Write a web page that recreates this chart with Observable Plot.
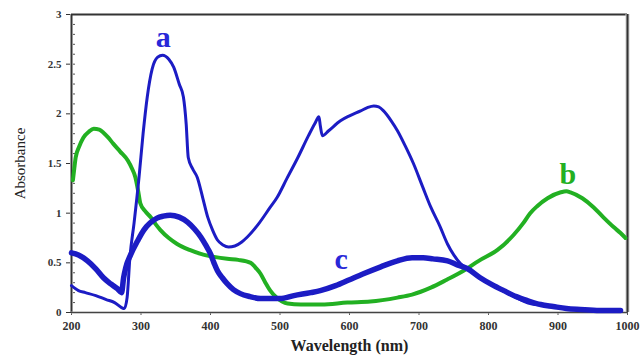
<!DOCTYPE html>
<html>
<head>
<meta charset="utf-8">
<script src="https://cdn.jsdelivr.net/npm/d3@7"></script>
<script src="https://cdn.jsdelivr.net/npm/@observablehq/plot@0.6"></script>
<style>
html,body{margin:0;padding:0;background:#fff;}
#chart svg, #chart svg text { font-family: "Liberation Serif" !important; }
</style>
</head>
<body>
<div id="chart"></div>
<script>
// Curve a (thin blue)
const aWave = [200,210,220,235,250,262,272,276,280,284,290,297,303,309,316,324,331,340,347,355,361,365,368,374,381,389,396,403,410,418,426,435,445,453,470,485,496,510,525,541,550,556,558,561,570,587,600,616,625,635,642,649,660,669,680,692,705,717,730,741,750,760,770,788,813,840,860,893,932,990];
const aAbs  = [0.27,0.22,0.2,0.17,0.13,0.1,0.05,0.04,0.15,0.55,0.9,1.35,1.8,2.17,2.45,2.57,2.59,2.55,2.47,2.3,2.17,1.9,1.56,1.45,1.36,1.15,0.96,0.83,0.73,0.68,0.66,0.67,0.71,0.76,0.9,1.05,1.16,1.35,1.55,1.78,1.9,1.97,1.88,1.78,1.83,1.93,1.98,2.03,2.06,2.08,2.07,2.03,1.93,1.83,1.68,1.5,1.27,1.06,0.87,0.69,0.58,0.49,0.44,0.35,0.25,0.15,0.09,0.06,0.03,0.02];
// Curve b (green)
const bWave = [202,204,206,211,217,225,232,240,246,253,260,270,281,287,292,296,299,306,314,321,328,340,352,370,386,405,424,440,458,465,472,479,486,495,503,511,530,560,597,630,669,690,717,740,764,786,813,836,850,860,870,885,904,912,918,935,951,965,980,990,997];
const bAbs  = [1.33,1.45,1.56,1.67,1.76,1.82,1.85,1.84,1.81,1.76,1.7,1.62,1.53,1.45,1.36,1.22,1.1,1.02,0.96,0.89,0.83,0.75,0.69,0.63,0.59,0.56,0.54,0.53,0.5,0.45,0.39,0.3,0.22,0.15,0.11,0.09,0.08,0.08,0.1,0.11,0.15,0.18,0.25,0.33,0.42,0.52,0.63,0.78,0.9,1.0,1.07,1.15,1.21,1.22,1.21,1.15,1.06,0.96,0.86,0.8,0.75];
// Curve c (thick blue)
const cWave = [200,210,223,235,246,256,266,272,275,278,285,295,304,313,323,332,342,355,367,377,386,393,400,405,410,417,424,433,443,457,472,485,500,520,544,558,580,600,620,645,669,690,706,720,741,755,770,788,805,822,840,856,875,893,912,932,960,990];
const cAbs  = [0.6,0.58,0.52,0.44,0.35,0.29,0.24,0.2,0.35,0.45,0.58,0.72,0.83,0.9,0.95,0.97,0.98,0.96,0.91,0.84,0.76,0.68,0.59,0.5,0.42,0.35,0.29,0.23,0.19,0.16,0.14,0.14,0.14,0.17,0.2,0.22,0.27,0.33,0.39,0.46,0.52,0.55,0.55,0.54,0.52,0.48,0.44,0.35,0.28,0.22,0.16,0.12,0.08,0.06,0.04,0.03,0.02,0.02];

const xTicks = [200,300,400,500,600,700,800,900,1000];
const yTicks = [0,0.5,1,1.5,2,2.5,3];
const yMinor = d3.range(0, 3.001, 0.1);

const curveLabels = ["a","b","c"];
const labelWave = [332, 914, 588];
const labelAbs = [2.67, 1.29, 0.44];

const blue = "#1c1cc4";
const green = "#22b022";

const toRows = (w, v) => w.map((x, i) => ({x, y: v[i]}));
const A = toRows(aWave, aAbs), B = toRows(bWave, bAbs), C = toRows(cWave, cAbs);
const labels = curveLabels.map((t, i) => ({t, x: labelWave[i], y: labelAbs[i]}));

const serif = "Liberation Serif";

const chart = Plot.plot({
  width: 641,
  height: 355,
  marginLeft: 71,
  marginRight: 14,
  marginTop: 14,
  marginBottom: 43,
  style: {fontFamily: serif, background: "#fff"},
  x: {domain: [200, 1000]},
  y: {domain: [0, 3]},
  marks: [
    Plot.axisY({ticks: yMinor, tickSize: -4, text: null, label: null, stroke: "#555"}),
    Plot.axisY({ticks: yTicks, tickSize: 5, tickPadding: 5, tickFormat: d => String(d), label: null, fontSize: 11, fontWeight: "bold", fill: "#333", stroke: "#333", fontFamily: serif}),
    Plot.axisX({ticks: xTicks, tickSize: 3, tickPadding: 6, tickFormat: d => String(d), label: null, fontSize: 12, fontWeight: "bold", fill: "#333", stroke: "#555", fontFamily: serif}),
    Plot.ruleX([200], {stroke: "#999", strokeWidth: 3}),
    Plot.ruleX([200], {stroke: "#333", strokeWidth: 1}),
    Plot.ruleY([0], {stroke: "#999", strokeWidth: 2}),
    Plot.ruleY([0], {stroke: "#444", strokeWidth: 1}),
    Plot.ruleY([3], {stroke: "#333", strokeWidth: 2}),
    Plot.ruleX([1000], {stroke: "#ccc", strokeWidth: 4}),
    Plot.ruleX([1000], {stroke: "#333", strokeWidth: 2}),
    Plot.line(B, {x: "x", y: "y", stroke: green, strokeWidth: 4, curve: "monotone-x"}),
    Plot.line(A, {x: "x", y: "y", stroke: blue, strokeWidth: 3, curve: "monotone-x"}),
    Plot.line(C, {x: "x", y: "y", stroke: blue, strokeWidth: 5.5, curve: "monotone-x"}),
    Plot.text(labels, {x: "x", y: "y", text: "t", fill: (d) => d.t === "b" ? green : "#2828d8", fontSize: 30, fontWeight: "bold", lineAnchor: "bottom", textAnchor: "middle", fontFamily: serif}),
    Plot.text(["Wavelength (nm)"], {frameAnchor: "bottom", textAnchor: "middle", dy: 38, text: d => d, fontSize: 16, fontWeight: "bold", fill: "#222", fontFamily: serif}),
    Plot.text(["Absorbance"], {frameAnchor: "left", textAnchor: "middle", lineAnchor: "middle", dx: -51, rotate: -90, text: d => d, fontSize: 15, fill: "#222", fontFamily: serif})
  ]
});
document.getElementById("chart").appendChild(chart);
</script>
</body>
</html>
